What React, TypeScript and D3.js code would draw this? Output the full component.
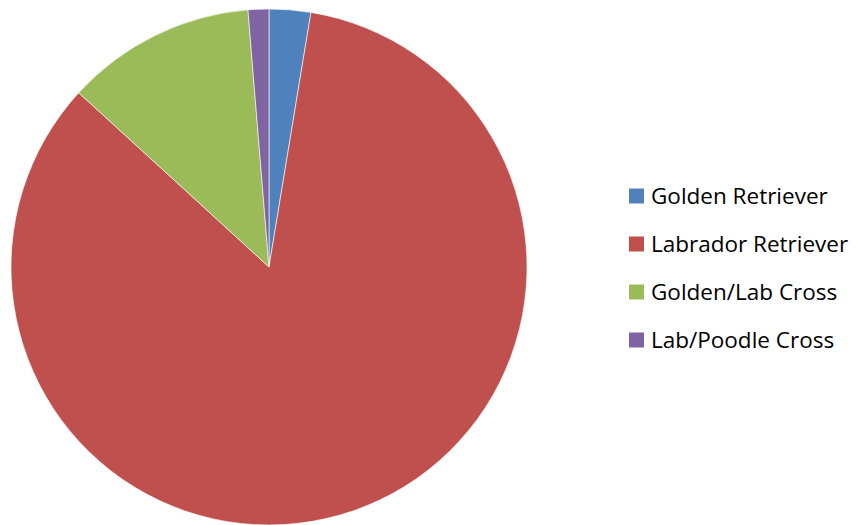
import React from 'react'
import * as d3 from 'd3'

const breeds = ['Golden Retriever', 'Labrador Retriever', 'Golden/Lab Cross', 'Lab/Poodle Cross']
const shares = [2.6, 84.2, 11.9, 1.3]
const colors = ['#4f81bd', '#c0504d', '#9bbb59', '#8064a2']

const W = 857
const H = 525

export default function App() {
    const cx = 269
    const cy = 267
    const r = 258

    const pie = d3.pie<number>().sort(null).value(d => d)
    const arcs = pie(shares)
    const arc = d3.arc<d3.PieArcDatum<number>>().innerRadius(0).outerRadius(r)

    const legendY = d3.scalePoint<string>().domain(breeds).range([196, 340])

    return (
        <svg width={W} height={H} style={{ position: 'absolute', left: 0, top: 0 }}>
            <rect width={W} height={H} fill="#fff" />
            <g transform={`translate(${cx},${cy})`}>
                {arcs.map((a, i) => (
                    <path key={i} d={arc(a) || ''} fill={colors[i]} stroke="#fff" strokeWidth={0.6} />
                ))}
            </g>
            <g style={{ fontFamily: '"Open Sans", Lato, sans-serif', fontSize: 22.5 }}>
                {breeds.map((b, i) => (
                    <g key={b} transform={`translate(629,${legendY(b)})`}>
                        <rect x={0} y={-7.5} width={15} height={15} fill={colors[i]} />
                        <text x={22} y={7.5} fill="#000">{b}</text>
                    </g>
                ))}
            </g>
        </svg>
    )
}
